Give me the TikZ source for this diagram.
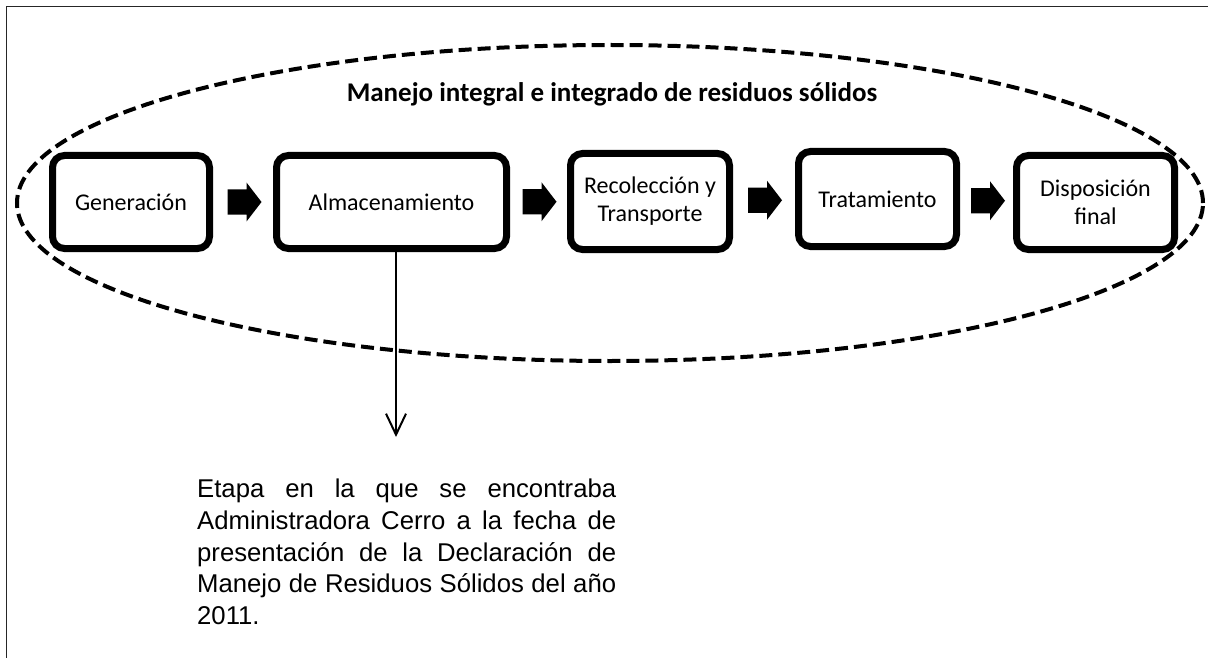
\documentclass[tikz,border=0pt]{standalone}
\usepackage{fontspec}
\setmainfont{Carlito}
\newfontfamily\arialf{Liberation Sans}
\usetikzlibrary{calc,shapes.geometric,arrows.meta}
\tikzset{
  stagebox/.style={draw=black, line width=7pt, rounded corners=12pt, fill=white,
    align=center, inner sep=2pt, font=\fontsize{24pt}{28pt}\selectfont},
  groupellipse/.style={ellipse, draw=black, line width=4pt, dash pattern=on 13pt off 6pt},
  blk/.pic={\fill[black] (-17,-12.5) -- (2,-12.5) -- (2,-19.5) -- (17,0) -- (2,19.5) -- (2,12.5) -- (-17,12.5) -- cycle;},
  desc/.style={inner sep=0pt, text width=419pt, align=justify,
    font=\arialf\fontsize{25.7pt}{31.7pt}\selectfont},
  downarrow/.style={line width=2.5pt, -{Straight Barb[length=21pt,width=20pt,line width=2pt]}}
}
\begin{document}
\begin{tikzpicture}[x=1pt,y=-1pt]
\useasboundingbox (0,0) rectangle (1208,658);
% frame
\draw[line width=1.5pt, black!85] (1208,6.5) -- (6.5,6.5) -- (6.5,658);
% grouping ellipse
\node[groupellipse, minimum width=1186pt, minimum height=316pt] (grp) at (610,203) {};
% title
\node[font=\bfseries\fontsize{27pt}{30pt}\selectfont, anchor=base] (title) at (612,102) {Manejo integral e integrado de residuos sólidos};
% stages
\node[stagebox, minimum width=157pt, minimum height=93pt] (gen) at (131,202) {Generación};
\node[stagebox, minimum width=230pt, minimum height=93pt] (alm) at (391.5,202) {Almacenamiento};
\node[stagebox, minimum width=159pt, minimum height=96pt] (rec) at (650,201.5) {Recolección y\\Transporte};
\node[stagebox, minimum width=158pt, minimum height=95pt] (tra) at (877.5,199) {Tratamiento};
\node[stagebox, minimum width=158pt, minimum height=94pt] (dis) at (1095.5,202.5) {Disposición\\final};
% block arrows
\pic at ($(gen.east)!0.5!(alm.west)+(1.5,0)$) {blk};
\pic at ($(alm.east)!0.5!(rec.west)+(1,0)$) {blk};
\pic at ($(rec.east)!0.5!(tra.west)+(1,0)$) {blk};
\pic at ($(tra.east)!0.5!(dis.west)+(1.5,0)$) {blk};
% pointer arrow
\coordinate (tip) at (396,437);
\draw[downarrow] (alm.south -| tip) -- (tip);
% description
\node[desc, anchor=north west] (txt) at (197,479) {Etapa en la que se encontraba\linebreak Administradora Cerro a la fecha de\linebreak presentación de la Declaración de\linebreak Manejo de Residuos Sólidos del año\linebreak 2011.};
\end{tikzpicture}
\end{document}
